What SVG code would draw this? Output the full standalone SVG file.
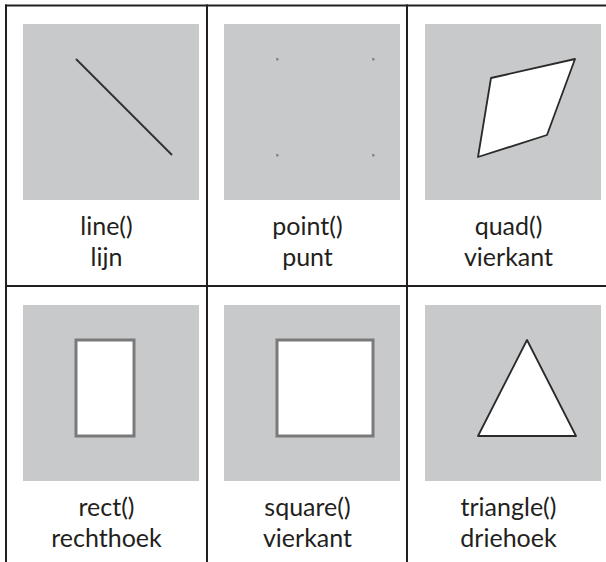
<svg xmlns="http://www.w3.org/2000/svg" width="606" height="562" viewBox="0 0 606 562">
<style>
.grid{stroke:#231f20;stroke-width:2;fill:none}
.bg{fill:#c8c9ca}
.lbl{font-family:Lato,"Open Sans","Liberation Sans",sans-serif;font-size:25px;fill:#231f20;text-anchor:middle}
.blk{stroke:#2a2a2a;stroke-width:1.8;fill:#fff;stroke-linejoin:round}
.gry{stroke:#7a7a7a;stroke-width:3;fill:#fff}
</style>
<rect width="606" height="562" fill="#fff"/>
<g id="connectors">
<line class="grid" x1="5" y1="5.5" x2="606" y2="5.5"/>
<line class="grid" x1="5" y1="286" x2="606" y2="286"/>
<line class="grid" x1="6" y1="4.5" x2="6" y2="562"/>
<line class="grid" x1="207" y1="4.5" x2="207" y2="562"/>
<line class="grid" x1="407" y1="4.5" x2="407" y2="562"/>
</g>
<g id="line">
<rect class="bg" x="23" y="24" width="176" height="176"/>
<line x1="76" y1="59" x2="172" y2="155" stroke="#333" stroke-width="2"/>
<text class="lbl" x="106.5" y="235">line()</text>
<text class="lbl" x="106.5" y="266">lijn</text>
</g>
<g id="point">
<rect class="bg" x="224" y="24" width="176" height="176"/>
<g fill="#888">
<rect x="276" y="58" width="2.5" height="2.5"/>
<rect x="372" y="58" width="2.5" height="2.5"/>
<rect x="276" y="154" width="2.5" height="2.5"/>
<rect x="372" y="154" width="2.5" height="2.5"/>
</g>
<text class="lbl" x="307.5" y="235">point()</text>
<text class="lbl" x="307.5" y="266">punt</text>
</g>
<g id="quad">
<rect class="bg" x="425" y="24" width="176" height="176"/>
<polygon class="blk" points="491,78 575,59 547,135 478,157"/>
<text class="lbl" x="508.5" y="235">quad()</text>
<text class="lbl" x="508.5" y="266">vierkant</text>
</g>
<g id="rect">
<rect class="bg" x="23" y="305" width="176" height="176"/>
<rect class="gry" x="76" y="340" width="58" height="96"/>
<text class="lbl" x="106.5" y="516">rect()</text>
<text class="lbl" x="106.5" y="547">rechthoek</text>
</g>
<g id="square">
<rect class="bg" x="224" y="305" width="176" height="176"/>
<rect class="gry" x="277" y="340" width="96" height="96"/>
<text class="lbl" x="307.5" y="516">square()</text>
<text class="lbl" x="307.5" y="547">vierkant</text>
</g>
<g id="triangle">
<rect class="bg" x="425" y="305" width="176" height="176"/>
<polygon class="blk" points="527,340 478,436 576,436"/>
<text class="lbl" x="508.5" y="516">triangle()</text>
<text class="lbl" x="508.5" y="547">driehoek</text>
</g>
</svg>
